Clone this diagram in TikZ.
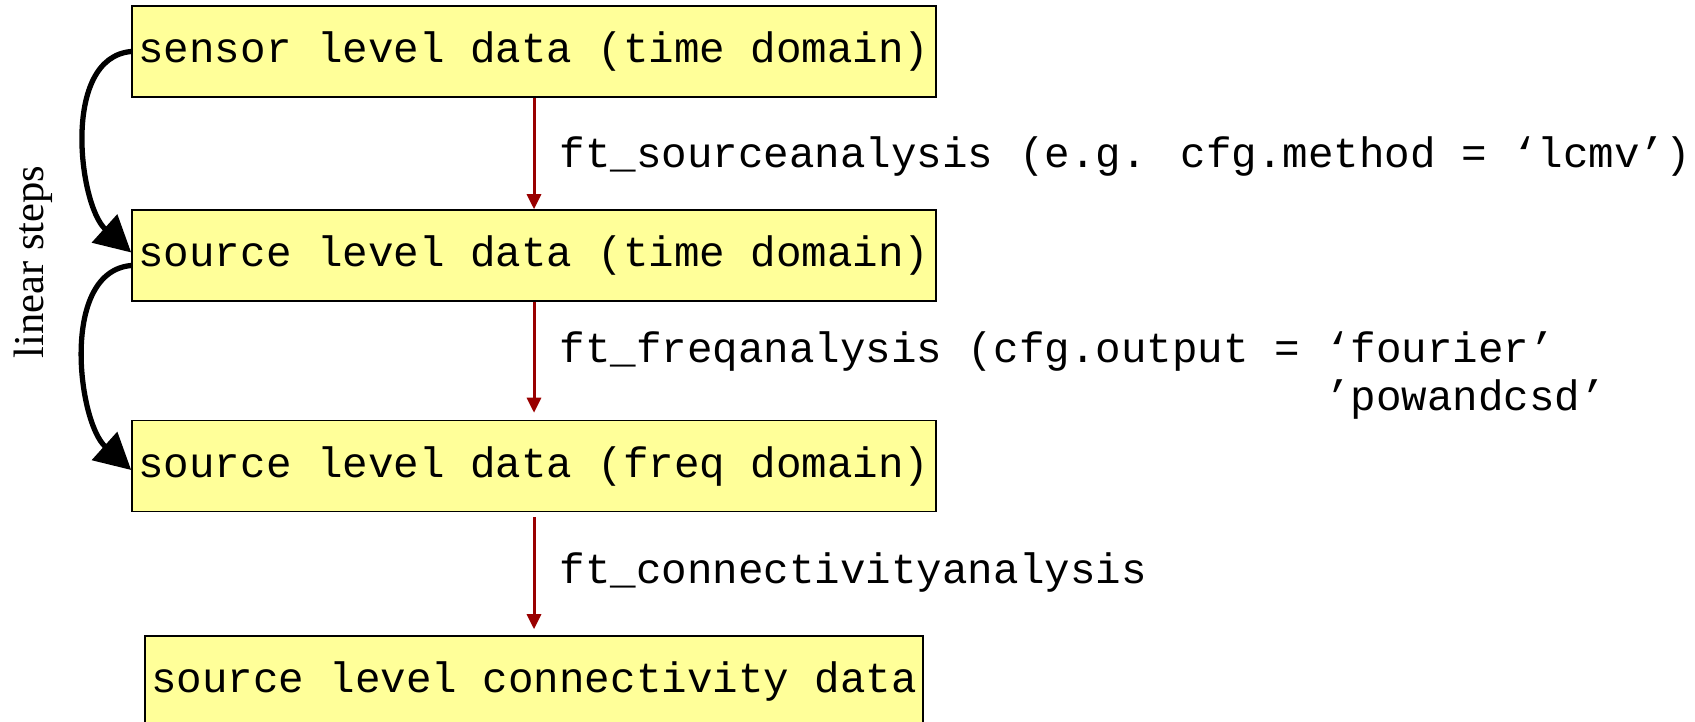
\documentclass[tikz,border=0pt]{standalone}
\usepackage{fontspec}
\newfontfamily\codefont{Liberation Mono}
\newfontfamily\notefont{Liberation Serif}
\usetikzlibrary{arrows.meta,positioning}
\definecolor{boxyellow}{RGB}{255,255,153}
\definecolor{stepred}{RGB}{153,0,0}

\begin{document}
\begin{tikzpicture}[
  databox/.style={draw, line width=0.45pt, fill=boxyellow, minimum height=0.91cm, inner sep=0pt,
    font=\codefont\fontsize{12.1}{13.4}\selectfont},
  fnlabel/.style={anchor=base west, inner sep=0pt, align=left, font=\codefont\fontsize{12.1}{13.4}\selectfont},
  callarrow/.style={-{Triangle[length=0.15cm,width=0.14cm]}, stepred, line width=0.85pt},
  linarrow/.style={-{Triangle[length=0.36cm,width=0.37cm]}, line width=1.5pt}
]
\useasboundingbox (0,0) rectangle (16.95,-7.22);
% data boxes
\foreach \n/\y/\t in {sens/0.515/{sensor level data (time domain)},
                      srct/2.555/{source level data (time domain)},
                      srcf/4.66/{source level data (freq domain)}} {
  \node[databox, minimum width=8.04cm] (\n) at (5.34,-\y) {\t};
}
\node[databox, minimum width=7.78cm] (conn) at (5.34,-6.815) {source level connectivity data};
% function calls
\draw[callarrow] (sens.south) -- (srct.north);
\draw[callarrow, shorten >=0.07cm] (srct.south) -- (srcf.north);
\draw[callarrow, shorten <=0.05cm, shorten >=0.06cm] (srcf.south) -- (conn.north);
\node[fnlabel] (srclbl) at (5.59,-1.68) {ft\_sourceanalysis (e.g. cfg.method = ‘lcmv’)};
\node[fnlabel] (freqlbl) at (5.59,-4.10) {ft\_freqanalysis (cfg.output = ‘fourier’\\
  \phantom{ft\_freqanalysis (cfg.output = }’powandcsd’};
\node[fnlabel] (connlbl) at (5.59,-5.83) {ft\_connectivityanalysis};
% linear steps
\draw[linarrow] (sens.west) to[out=185, in=138, looseness=0.9] ([yshift=0.03cm]srct.west);
\draw[linarrow] ([yshift=-0.1cm]srct.west) to[out=185, in=138, looseness=0.9] ([yshift=-0.04cm]srcf.west);
\node[font=\notefont\fontsize{12.1}{14}\selectfont, rotate=90] (linlbl) at (0.33,-2.62) {linear steps};
\end{tikzpicture}
\end{document}
